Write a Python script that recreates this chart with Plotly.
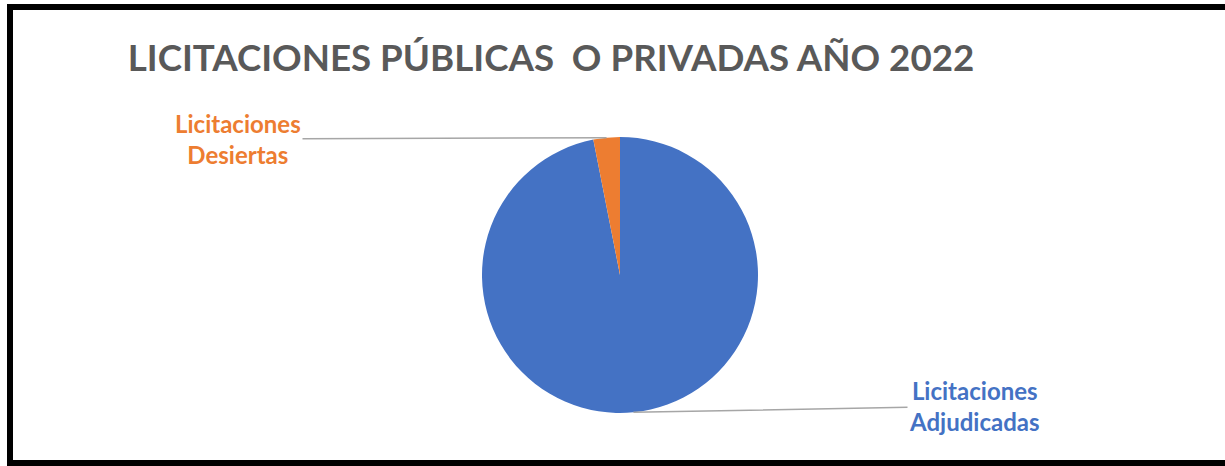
import numpy as np
import plotly.graph_objects as go

categories = ["Licitaciones<br>Adjudicadas", "Licitaciones<br>Desiertas"]
values = [96.9, 3.1]
colors = ["#4472C4", "#ED7D31"]
title_text = "LICITACIONES PÚBLICAS  O PRIVADAS AÑO 2022"

W, H = 1225, 466
cx, cy, r = 620, 275, 138

fig = go.Figure(go.Pie(
    labels=categories, values=values, sort=False, direction="counterclockwise",
    rotation=0, marker=dict(colors=colors, line=dict(color="white", width=0)),
    textinfo="none", hoverinfo="label+percent", showlegend=False,
    domain=dict(x=[(cx - r) / W, (cx + r) / W], y=[1 - (cy + r) / H, 1 - (cy - r) / H]),
))

# leader anchor points at slice mid-angles (angles measured clockwise from 12 o'clock on screen)
fr = np.array(values) / np.sum(values)
starts = np.concatenate([[0], np.cumsum(fr)[:-1]])
mids = 360 * (starts + fr / 2)
text_pos = [(974, 406), (238, 139)]
anns = []
for i, (lab, col) in enumerate(zip(categories, colors)):
    a = np.deg2rad(mids[i])
    px = cx + r * np.sin(a)
    py = cy - r * np.cos(a)
    tx, ty = text_pos[i]
    anns.append(dict(
        x=px / W, y=1 - py / H, xref="paper", yref="paper",
        ax=tx - px, ay=ty - py, text=f"<b>{lab}</b>", showarrow=True,
        arrowhead=0, arrowwidth=1.5, arrowcolor="#A6A6A6", standoff=0,
        font=dict(family="Lato", size=24, color=col), align="center",
    ))

# open frame (left, top, bottom) - the right side is cut off in the original
x0f, x1f = 10 / W, 1.0
y0f, y1f = 1 - 463 / H, 1 - 7 / H
frame = dict(type="line", xref="paper", yref="paper", line=dict(color="black", width=6))
shapes = [
    dict(frame, x0=x0f - 3 / W, x1=x1f, y0=y1f, y1=y1f),
    dict(frame, x0=x0f - 3 / W, x1=x1f, y0=y0f, y1=y0f),
    dict(frame, x0=x0f, x1=x0f, y0=y0f, y1=y1f),
]

fig.update_layout(
    width=W, height=H, margin=dict(l=0, r=0, t=0, b=0),
    paper_bgcolor="white", plot_bgcolor="white",
    title=dict(text=f"<b>{title_text}</b>", x=551 / W, xanchor="center",
               y=1 - 58 / H, yanchor="middle",
               font=dict(family="Lato", size=36.7, color="#595959")),
    annotations=anns,
    shapes=shapes,
)
fig.write_html("out.html", config={"displayModeBar": False})

with open("out.html", encoding="utf-8") as f:
    html = f.read()
html = html.replace("<head>", "<head><style>html,body{margin:0;padding:0;overflow:hidden;background:white;}</style>", 1)
with open("out.html", "w", encoding="utf-8") as f:
    f.write(html)
